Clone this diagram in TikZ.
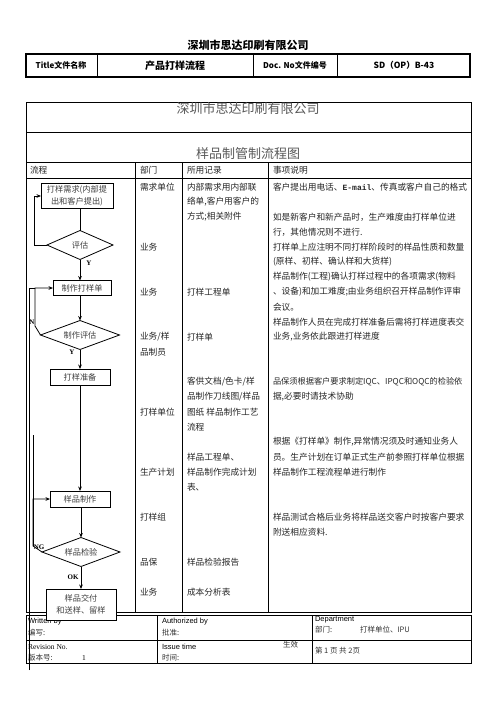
\documentclass[tikz,border=0pt]{standalone}
\usepackage{fontspec}
\setmainfont{Liberation Serif}
\newfontfamily\cjk{Noto Sans CJK SC}
\newfontfamily\arialf{Liberation Sans}
\newfontfamily\monof{Liberation Mono}
\usetikzlibrary{shapes.geometric,arrows.meta}
\begin{document}
\begin{tikzpicture}[x=1pt,y=-1pt,
  every node/.style={inner sep=0pt,outer sep=0pt},
  txt/.style={anchor=west,font=\cjk\fontsize{8.7}{8.7}\selectfont,text=black!85},
  ftxt/.style={anchor=west,font=\cjk\fontsize{7.5}{7.5}\selectfont,text=black!80},
  etxt/.style={anchor=west,font=\arialf\fontsize{7.5}{7.5}\selectfont,text=black},
  hdr/.style={font=\cjk\bfseries\fontsize{8}{8}\selectfont},
  fbox/.style={draw,fill=white,line width=0.8pt,align=center,text=black!75,font=\cjk\fontsize{8.2}{12.5}\selectfont},
  fdia/.style={draw,fill=white,diamond,aspect=2.6,line width=0.8pt,text=black!75,font=\cjk\fontsize{8.2}{8.2}\selectfont},
  conn/.style={line width=0.8pt},
  arr/.style={conn,-{Stealth[length=4.5pt,width=3.6pt]}},
  lbl/.style={font=\bfseries\fontsize{7}{7}\selectfont}
]
\useasboundingbox (0,0) rectangle (496,701);
\fill[white] (0,0) rectangle (496,701);

% ---- page header ----
\node (cotitle) at (248,45) {\cjk\bfseries\fontsize{11}{11}\selectfont 深圳市思达印刷有限公司};
\draw[line width=1.8pt] (26,54) rectangle (470,77);
\draw[line width=0.8pt] (97,54) -- (97,77) (253,54) -- (253,77) (337,54) -- (337,77);
\node[hdr] (h1) at (61,65.5) {Title文件名称};
\node[hdr,font=\cjk\bfseries\fontsize{10}{10}\selectfont] (h2) at (175,65.5) {产品打样流程};
\node[hdr] (h3) at (295,65.5) {Doc. No文件编号};
\node[hdr,font=\cjk\bfseries\fontsize{8.5}{8.5}\selectfont] (h4) at (404,65.5) {SD（OP）B-43};

% ---- main table ----
\draw[line width=1pt] (26,102) rectangle (471,612);
\draw[line width=0.8pt] (26,132) -- (471,132) (26,162) -- (471,162) (26,178) -- (471,178);
\draw[line width=0.8pt] (135,162) -- (135,612) (182,162) -- (182,612) (268,162) -- (268,612);
\node[font=\cjk\fontsize{13}{13}\selectfont,text=black!65] (t1) at (248,109) {深圳市思达印刷有限公司};
\node[font=\cjk\fontsize{13}{13}\selectfont,text=black!65] (t2) at (248,154) {样品制管制流程图};
\node[txt] (c1) at (30,170) {流程};
\node[txt] (c2) at (140,170) {部门};
\node[txt] (c3) at (187,170) {所用记录};
\node[txt] (c4) at (273,170) {事项说明};

% department
\node[txt] (d1) at (140,187) {需求单位};
\node[txt] (d2) at (140,247) {业务};
\node[txt] (d3) at (140,292) {业务};
\node[txt] (d4) at (140,337) {业务/样};
\node[txt] (d5) at (140,352) {品制员};
\node[txt] (d6) at (140,412) {打样单位};
\node[txt] (d7) at (140,472) {生产计划};
\node[txt] (d8) at (140,517) {打样组};
\node[txt] (d9) at (140,562) {品保};
\node[txt] (d10) at (140,592) {业务};

% records
\node[txt] (r1) at (187,187) {内部需求用内部联};
\node[txt] (r2) at (187,202) {络单,客户用客户的};
\node[txt] (r3) at (187,217) {方式;相关附件};
\node[txt] (r4) at (187,292) {打样工程单};
\node[txt] (r5) at (187,337) {打样单};
\node[txt] (r6) at (187,382) {客供文档/色卡/样};
\node[txt] (r7) at (187,397) {品制作刀线图/样品};
\node[txt] (r8) at (187,412) {图纸 样品制作工艺};
\node[txt] (r9) at (187,427) {流程};
\node[txt] (r10) at (187,457) {样品工程单、};
\node[txt] (r11) at (187,472) {样品制作完成计划};
\node[txt] (r12) at (187,487) {表、};
\node[txt] (r13) at (187,562) {样品检验报告};
\node[txt] (r14) at (187,592) {成本分析表};

% notes
\node[txt] (n1) at (273,187) {客户提出用电话、{\monof\bfseries\fontsize{8}{8}\selectfont E-mail}、传真或客户自己的格式};
\node[txt] (n2) at (273,217) {如是新客户和新产品时，生产难度由打样单位进};
\node[txt] (n3) at (273,232) {行，其他情况则不进行.};
\node[txt] (n4) at (273,247) {打样单上应注明不同打样阶段时的样品性质和数量};
\node[txt] (n5) at (273,262) {(原样、初样、确认样和大货样)};
\node[txt] (n6) at (273,277) {样品制作(工程)确认打样过程中的各项需求(物料};
\node[txt] (n7) at (273,292) {、设备)和加工难度;由业务组织召开样品制作评审};
\node[txt] (n8) at (273,307) {会议。};
\node[txt] (n9) at (273,322) {样品制作人员在完成打样准备后需将打样进度表交};
\node[txt] (n10) at (273,337) {业务,业务依此跟进打样进度};
\node[txt,font=\cjk\fontsize{8.2}{8.2}\selectfont] (n11) at (273,382) {品保须根据客户要求制定IQC、IPQC和OQC的检验依};
\node[txt] (n12) at (273,397) {据,必要时请技术协助};
\node[txt] (n13) at (273,442) {根据《打样单》制作,异常情况须及时通知业务人};
\node[txt] (n14) at (273,457) {员。生产计划在订单正式生产前参照打样单位根据};
\node[txt] (n15) at (273,472) {样品制作工程流程单进行制作};
\node[txt] (n16) at (273,517) {样品测试合格后业务将样品送交客户时按客户要求};
\node[txt] (n17) at (273,532) {附送相应资料.};

% ---- footer table ----
\draw[line width=1pt] (26,615) rectangle (471,663);
\draw[line width=0.8pt] (26,640) -- (471,640) (157,615) -- (157,663) (312,615) -- (312,663);
\node[etxt] (f1) at (28,622) {Written by};
\node[ftxt] (f2) at (28,633) {编写:};
\node[etxt] (f3) at (162,622) {Authorized by};
\node[ftxt] (f4) at (162,633) {批准:};
\node[etxt] (f5) at (315,620) {Department};
\node[ftxt] (f6) at (315,630) {部门:};
\node[ftxt] (f7) at (360,630) {打样单位、IPU};
\node[anchor=west,font=\fontsize{7.5}{7.5}\selectfont] (f8) at (28,647) {Revision No.};
\node[ftxt] (f9) at (28,658) {版本号:};
\node[anchor=west,font=\fontsize{7.5}{7.5}\selectfont] (f10) at (82,658) {1};
\node[etxt] (f11) at (162,647) {Issue time};
\node[ftxt] (f12) at (162,658) {时间:};
\node[ftxt] (f13) at (283,645) {生效};
\node[ftxt] (f14) at (315,651) {第 1 页 共 2页};

% ---- flowchart ----
\node[fbox,minimum width=72pt,minimum height=25pt] (req) at (77,196) {打样需求(内部提\\出和客户提出)};
\node[fdia,minimum width=66pt,minimum height=29pt] (eval) at (80,245) {评估};
\node[fbox,minimum width=58pt,minimum height=15pt] (mk) at (82,288) {制作打样单};
\node[fdia,minimum width=79pt,minimum height=29pt] (mkeval) at (80,335) {制作评估};
\node[fbox,minimum width=60pt,minimum height=16pt] (prep) at (80,377) {打样准备};
\node[fbox,minimum width=60pt,minimum height=16pt] (make) at (80,499) {样品制作};
\node[fdia,minimum width=78pt,minimum height=29pt] (insp) at (81,552) {样品检验};
\node[fbox,minimum width=70pt,minimum height=31pt] (deliver) at (81,604.5) {样品交付\\和送样、留样};

\coordinate (la) at (34,245);
\coordinate (nb) at (35,326);
\coordinate (nt) at (35,288);
\coordinate (ot) at (29,288);
\coordinate (ob) at (29,670);
\coordinate (gb) at (33,546);
\coordinate (gt) at (33,435);

\draw[conn] (eval.north |- req.south) -- (eval.north);
\draw[arr] (eval.west) -- (la) |- (req.west);
\draw[arr] (eval.south) -- (eval.south |- mk.north);
\draw[arr] (mkeval.north |- mk.south) -- (mkeval.north);
\draw[arr] (mkeval.west) -- (nb) -- (nt) -- (mk.west);
\draw[conn] (ob) -- (ot) -- (nt);
\draw[arr] (mkeval.south) -- (prep.north);
\draw[arr] (prep.south) -- (make.north);
\draw[arr] (make.south) -- (make.south -| insp.north) -- (insp.north);
\draw[arr] (insp.west) -- (gb) |- (make.west);
\draw[conn] (gt) -- (gb);
\draw[arr] (insp.south) -- (deliver.north);

\node[lbl] (ly1) at (89,263) {Y};
\node[lbl] (ln) at (32,322) {N};
\node[lbl] (ly2) at (72,352) {Y};
\node[lbl] (lng) at (39,547) {NG};
\node[lbl] (lok) at (73,577) {OK};
\end{tikzpicture}
\end{document}
